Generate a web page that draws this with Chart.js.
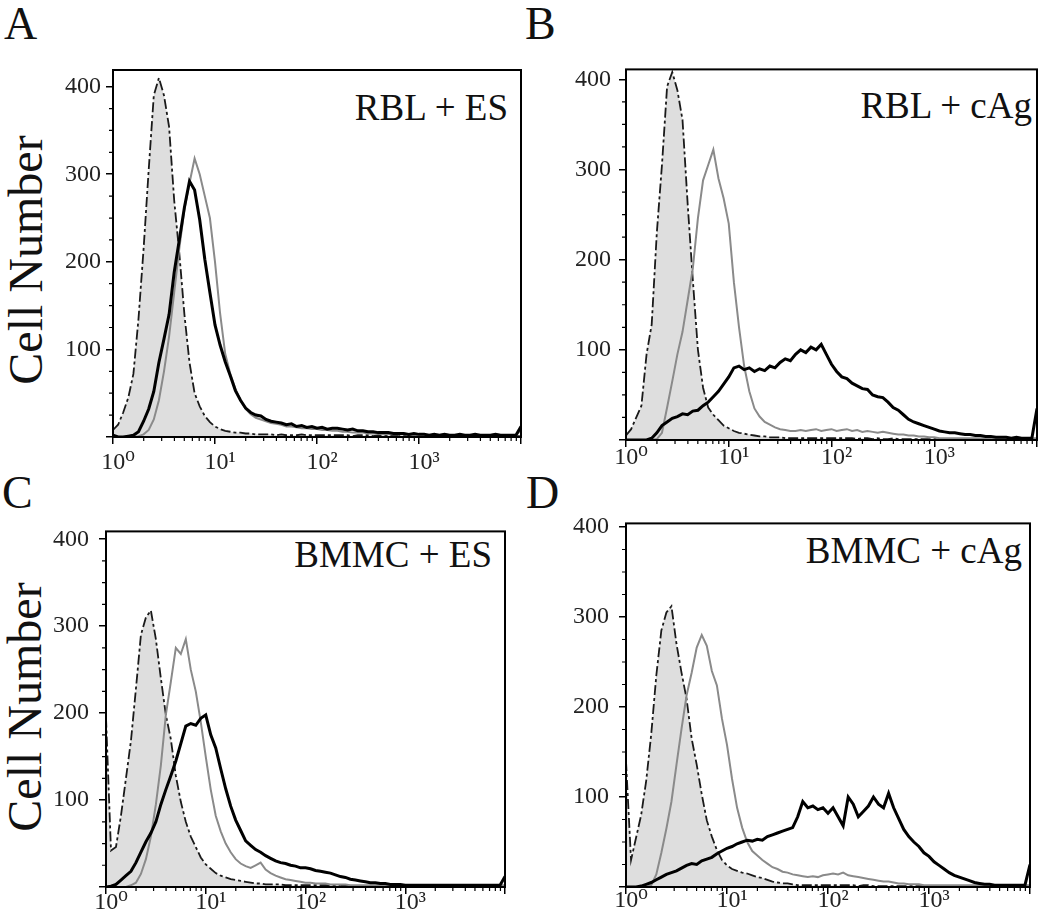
<!DOCTYPE html>
<html>
<head>
<meta charset="utf-8">
<script src="https://cdn.jsdelivr.net/npm/chart.js@4"></script>
<style>
  body { margin: 0; background: #fff; width: 1050px; height: 924px; overflow: hidden; position: relative;
         font-family: 'Liberation Serif', 'DejaVu Serif', serif; color: #111; }
  canvas { position: absolute; }
  .t { position: absolute; white-space: nowrap; line-height: 1; }
  .ttl { font-size: 37px; transform: translateX(-100%); }
  .let { font-size: 46px; }
  .ylab { font-size: 48px; transform: translate(-50%, -50%) rotate(-90deg); }
</style>
</head>
<body>
<div class="t let" style="left:4px;top:1px">A</div>
<div class="t let" style="left:525px;top:1px">B</div>
<div class="t let" style="left:2px;top:470px">C</div>
<div class="t let" style="left:526px;top:470px">D</div>
<div class="t ylab" style="left:26px;top:260px">Cell Number</div>
<div class="t ylab" style="left:25px;top:707px">Cell Number</div>
<div class="t ttl" style="left:508px;top:89px">RBL + ES</div>
<div class="t ttl" style="left:1032px;top:87px">RBL + cAg</div>
<div class="t ttl" style="left:492px;top:536px">BMMC + ES</div>
<div class="t ttl" style="left:1022px;top:532px">BMMC + cAg</div>

<canvas id="pA"></canvas>
<canvas id="pB"></canvas>
<canvas id="pC"></canvas>
<canvas id="pD"></canvas>

<script>
// fluorescence channel positions, in decades (10^0 .. 10^4)
const decades = [
  0.00, 0.05, 0.10, 0.15, 0.20, 0.25, 0.30, 0.35, 0.40, 0.45,
  0.50, 0.55, 0.60, 0.65, 0.70, 0.75, 0.80, 0.85, 0.90, 0.95,
  1.00, 1.05, 1.10, 1.15, 1.20, 1.25, 1.30, 1.35, 1.40, 1.45,
  1.50, 1.55, 1.60, 1.65, 1.70, 1.75, 1.80, 1.85, 1.90, 1.95,
  2.00, 2.05, 2.10, 2.15, 2.20, 2.25, 2.30, 2.35, 2.40, 2.45,
  2.50, 2.55, 2.60, 2.65, 2.70, 2.75, 2.80, 2.85, 2.90, 2.95,
  3.00, 3.05, 3.10, 3.15, 3.20, 3.25, 3.30, 3.35, 3.40, 3.45,
  3.50, 3.55, 3.60, 3.65, 3.70, 3.75, 3.80, 3.85, 3.90, 3.95,
  4.00
];
const xTicks = [0, 1, 2, 3, 4];
const xTickLabels = ['10\u2070', '10\u00b9', '10\u00b2', '10\u00b3', ''];
const yTicks = [0, 100, 200, 300, 400];

// --- A: RBL + ES ---
const ctrlA = [
  8, 14, 28, 45, 72, 135, 215, 305, 390, 410,
  390, 354, 270, 210, 140, 85, 50, 35, 24, 17,
  12, 9, 7, 6, 5, 5, 4, 4, 3, 3,
  3, 3, 2, 3, 2, 2, 2, 3, 2, 2,
  2, 2, 2, 2, 2, 2, 2, 1, 2, 2,
  2, 1, 2, 2, 1, 2, 1, 2, 1, 1,
  1, 1, 2, 1, 1, 1, 1, 2, 1, 1,
  1, 1, 1, 1, 1, 1, 1, 1, 1, 1,
  1
];
const grayA = [
  0, 0, 0, 0, 0, 1, 3, 8, 20, 42,
  75, 115, 165, 215, 260, 290, 318, 300, 275, 250,
  200, 141, 95, 72, 55, 42, 32, 26, 22, 20,
  18, 16, 15, 14, 12, 12, 11, 10, 10, 9,
  9, 8, 8, 7, 7, 6, 6, 5, 5, 5,
  4, 4, 4, 3, 3, 3, 3, 3, 2, 2,
  2, 2, 2, 2, 2, 2, 2, 2, 2, 2,
  2, 2, 2, 2, 2, 2, 2, 2, 2, 2,
  8
];
const blackA = [
  2, 0, 0, 1, 2, 6, 18, 32, 52, 85,
  112, 140, 188, 225, 262, 292, 282, 248, 203, 165,
  128, 105, 86, 70, 53, 42, 33, 28, 25, 24,
  20, 18, 17, 16, 14, 15, 12, 13, 11, 12,
  10, 11, 9, 10, 10, 9, 8, 9, 7, 7,
  6, 6, 5, 5, 5, 4, 4, 4, 3, 4,
  3, 3, 2, 3, 2, 3, 2, 2, 3, 2,
  2, 3, 2, 2, 2, 3, 2, 2, 2, 2,
  12
];

// --- B: RBL + cAg ---
const ctrlB = [
  5, 12, 25, 38, 95, 128, 230, 305, 392, 408,
  388, 355, 262, 178, 100, 58, 36, 28, 22, 16,
  13, 10, 8, 7, 6, 5, 4, 4, 3, 3,
  3, 2, 2, 2, 2, 2, 2, 2, 2, 2,
  2, 2, 2, 2, 2, 1, 2, 2, 1, 2,
  1, 1, 2, 1, 1, 1, 1, 1, 1, 1,
  1, 1, 1, 1, 1, 1, 1, 1, 1, 1,
  1, 1, 1, 1, 1, 1, 1, 1, 1, 1,
  1
];
const grayB = [
  0, 0, 0, 0, 0, 0, 1, 8, 36, 65,
  95, 120, 155, 190, 246, 288, 305, 322, 290, 268,
  240, 175, 125, 82, 54, 35, 26, 20, 17, 14,
  12, 11, 10, 10, 11, 10, 11, 12, 10, 11,
  12, 10, 11, 12, 10, 11, 9, 10, 9, 8,
  9, 8, 7, 6, 6, 5, 5, 4, 4, 3,
  3, 2, 2, 2, 2, 2, 2, 2, 2, 2,
  2, 2, 2, 2, 2, 2, 2, 2, 2, 2,
  2
];
const blackB = [
  0, 0, 0, 0, 0, 2, 8, 16, 20, 24,
  26, 29, 28, 32, 33, 38, 42, 48, 54, 62,
  70, 80, 82, 78, 80, 76, 79, 77, 82, 80,
  86, 90, 88, 95, 100, 97, 103, 100, 106, 95,
  84, 76, 70, 68, 63, 60, 57, 56, 50, 48,
  47, 42, 36, 33, 28, 23, 20, 18, 16, 14,
  12, 10, 9, 8, 8, 7, 6, 6, 5, 5,
  4, 4, 3, 3, 3, 2, 3, 2, 2, 2,
  35
];

// --- C: BMMC + ES ---
const ctrlC = [
  195, 42, 46, 82, 125, 168, 228, 290, 310, 318,
  285, 240, 198, 170, 128, 98, 75, 58, 46, 34,
  26, 21, 16, 13, 11, 9, 8, 7, 6, 5,
  4, 4, 3, 3, 3, 3, 2, 2, 2, 2,
  2, 2, 2, 2, 2, 2, 2, 1, 2, 1,
  1, 1, 1, 1, 1, 1, 1, 1, 1, 1,
  1, 1, 1, 1, 1, 1, 1, 1, 1, 1,
  1, 1, 1, 1, 1, 1, 1, 1, 1, 1,
  1
];
const grayC = [
  0, 0, 0, 0, 0, 2, 5, 15, 32, 58,
  95, 140, 198, 236, 275, 268, 285, 250, 225, 190,
  150, 112, 82, 64, 50, 40, 32, 27, 24, 22,
  25, 28, 20, 16, 13, 11, 9, 8, 7, 6,
  5, 5, 4, 4, 4, 3, 3, 3, 3, 2,
  2, 2, 2, 2, 2, 2, 2, 2, 2, 2,
  2, 2, 2, 2, 2, 2, 2, 2, 2, 2,
  2, 2, 2, 2, 2, 2, 2, 2, 2, 2,
  2
];
const blackC = [
  0, 1, 3, 8, 13, 18, 28, 40, 52, 62,
  75, 95, 112, 128, 145, 165, 185, 188, 186, 194,
  198, 175, 160, 136, 113, 93, 77, 65, 53, 48,
  43, 40, 36, 33, 30, 28, 27, 25, 24, 22,
  22, 21, 19, 18, 17, 16, 14, 12, 11, 9,
  8, 7, 6, 5, 5, 4, 4, 3, 3, 3,
  2, 2, 2, 2, 2, 2, 2, 2, 2, 2,
  2, 2, 2, 2, 2, 2, 2, 2, 2, 2,
  12
];

// --- D: BMMC + cAg ---
const ctrlD = [
  140, 30, 55, 80, 118, 170, 235, 285, 305, 312,
  270, 238, 209, 165, 136, 103, 74, 56, 41, 30,
  24, 20, 18, 16, 15, 13, 11, 10, 8, 6,
  5, 4, 4, 3, 2, 2, 2, 2, 2, 2,
  2, 2, 2, 2, 2, 2, 1, 2, 2, 1,
  1, 1, 1, 1, 1, 1, 1, 1, 1, 1,
  1, 1, 1, 1, 1, 1, 1, 1, 1, 1,
  1, 1, 1, 1, 1, 1, 1, 1, 1, 1,
  1
];
const grayD = [
  0, 0, 0, 0, 0, 2, 14, 38, 65, 95,
  136, 176, 213, 238, 266, 280, 268, 240, 224, 187,
  158, 120, 88, 66, 50, 40, 35, 30, 26, 22,
  20, 17, 16, 14, 13, 12, 11, 12, 11, 13,
  14, 15, 14, 16, 13, 12, 11, 10, 9, 8,
  7, 6, 6, 5, 4, 4, 3, 3, 3, 2,
  2, 2, 2, 2, 2, 2, 2, 2, 2, 2,
  2, 2, 2, 2, 2, 2, 2, 2, 2, 2,
  2
];
const blackD = [
  0, 0, 0, 1, 3, 5, 8, 11, 14, 16,
  18, 21, 24, 26, 25, 29, 31, 33, 37, 40,
  43, 45, 48, 50, 52, 51, 53, 52, 56, 58,
  60, 62, 64, 66, 78, 95, 88, 90, 86, 88,
  82, 88, 78, 68, 100, 92, 78, 84, 90, 100,
  92, 88, 104, 88, 76, 64, 56, 50, 45, 38,
  34, 28, 24, 20, 16, 13, 11, 9, 7, 5,
  4, 3, 3, 2, 2, 2, 2, 2, 2, 2,
  25
];

const SERIF = "'Liberation Serif', 'DejaVu Serif', serif";
const Y_W = 70, X_H = 50, PAD_T = 20, PAD_R = 20;

const pts = vals => decades.map((d, i) => ({ x: d, y: vals[i] }));

// box around the plot plus the small minor tick marks
const framePlugin = {
  id: 'frame',
  afterDraw(chart) {
    const { ctx, chartArea: a, scales: { x, y } } = chart;
    ctx.save();
    ctx.strokeStyle = '#000';
    ctx.lineWidth = 2;
    ctx.strokeRect(a.left, a.top, a.right - a.left, a.bottom - a.top);
    ctx.lineWidth = 1.2;
    ctx.beginPath();
    for (let n = 0; n < 4; n++) {
      for (let k = 2; k < 10; k++) {
        const px = x.getPixelForValue(n + Math.log10(k));
        ctx.moveTo(px, a.bottom);
        ctx.lineTo(px, a.bottom + 4);
      }
    }
    for (let v = 25; v < y.max; v += 25) {
      if (v % 100 === 0) continue;
      const py = y.getPixelForValue(v);
      ctx.moveTo(a.left - 4, py);
      ctx.lineTo(a.left, py);
    }
    ctx.stroke();
    ctx.restore();
  }
};

function panel(id, area, yMax, ctrl, gray, black, yPad, xPad) {
  const cv = document.getElementById(id);
  const W = area.r - area.l + Y_W + PAD_R;
  const H = area.b - area.t + PAD_T + X_H;
  cv.width = W; cv.height = H;
  cv.style.width = W + 'px'; cv.style.height = H + 'px';
  cv.style.left = (area.l - Y_W) + 'px';
  cv.style.top = (area.t - PAD_T) + 'px';

  new Chart(cv, {
    type: 'line',
    data: {
      datasets: [
        { data: pts(black), borderColor: '#000', borderWidth: 3 },
        { data: pts(gray), borderColor: '#8a8a8a', borderWidth: 2 },
        { data: pts(ctrl), borderColor: '#1a1a1a', borderWidth: 1.8, borderDash: [10, 3, 3, 3],
          fill: 'origin', backgroundColor: '#dedede' }
      ]
    },
    options: {
      responsive: false,
      animation: false,
      devicePixelRatio: 1,
      layout: { padding: { left: 0, top: PAD_T, right: PAD_R, bottom: 0 } },
      plugins: { legend: { display: false }, tooltip: { enabled: false } },
      elements: { point: { radius: 0 }, line: { tension: 0 } },
      scales: {
        x: {
          type: 'linear', min: 0, max: 4,
          afterBuildTicks: s => { s.ticks = xTicks.map(v => ({ value: v })); },
          ticks: {
            autoSkip: false, maxRotation: 0, labelOffset: 5, padding: xPad,
            color: '#222', font: { family: SERIF, size: 24 },
            callback: (v, i) => xTickLabels[i]
          },
          grid: { drawOnChartArea: false, drawTicks: true, tickLength: 7, color: '#000', lineWidth: 1.5 },
          border: { display: false },
          afterFit: s => { s.height = X_H; }
        },
        y: {
          type: 'linear', min: 0, max: yMax,
          afterBuildTicks: s => { s.ticks = yTicks.map(v => ({ value: v })); },
          ticks: {
            autoSkip: false, padding: yPad,
            color: '#222', font: { family: SERIF, size: 24 },
            callback: v => (v > 0 ? String(v) : '')
          },
          grid: { drawOnChartArea: false, drawTicks: true, tickLength: 7, color: '#000', lineWidth: 1.5 },
          border: { display: false },
          afterFit: s => { s.width = Y_W; }
        }
      }
    },
    plugins: [framePlugin]
  });
}

panel('pA', { l: 113, t: 70, r: 521, b: 437 }, 419, ctrlA, grayA, blackA, 5, 4);
panel('pB', { l: 626, t: 67, r: 1037, b: 440 }, 411, ctrlB, grayB, blackB, 8, -4);
panel('pC', { l: 106, t: 527, r: 505, b: 887 }, 409, ctrlC, grayC, blackC, 10, -6);
panel('pD', { l: 626, t: 519, r: 1030, b: 887 }, 404, ctrlD, grayD, blackD, 10, -8);
</script>
</body>
</html>
